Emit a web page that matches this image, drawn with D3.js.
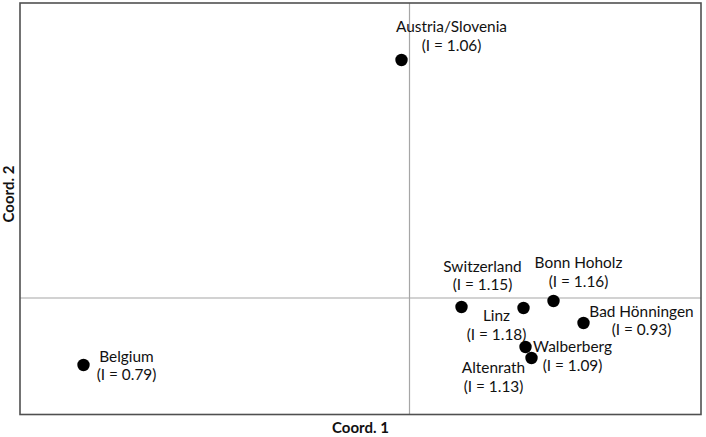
<!DOCTYPE html>
<html><head><meta charset="utf-8">
<script src="https://cdn.jsdelivr.net/npm/d3@7"></script>
<style>
html,body{margin:0;padding:0;background:#fff;}
svg{display:block;}
text{font-family:Lato,"Open Sans",sans-serif;}
</style></head>
<body>
<svg id="chart" width="706" height="437"></svg>
<script>
const sites = ["Austria/Slovenia","Switzerland","Bonn Hoholz","Linz","Bad Hönningen","Walberberg","Altenrath","Belgium"];
const indexI = ["1.06","1.15","1.16","1.18","0.93","1.09","1.13","0.79"];
const coord1 = [-0.08, 0.52, 1.44, 1.14, 1.74, 1.16, 1.22, -3.26];
const coord2 = [2.38, -0.09, -0.03, -0.10, -0.25, -0.49, -0.60, -0.67];
const xTitle = "Coord. 1";
const yTitle = "Coord. 2";

// label placement (offset of label centre / first baseline from the point, px)
const labelDx = [50, 21, 25, -27, 58, 47, -38, 43];
const labelDy = [-28, -35.5, -33, 13, -6.5, 5, 15, -3.5];

const svg = d3.select("#chart");
const L = 20, R = 701, T = 3, B = 414.5;
const x = d3.scaleLinear().domain([-3.895, 2.915]).range([L, R]);
const y = d3.scaleLinear().domain([-1.165, 2.95]).range([B, T]);

// zero lines
svg.append("line").attr("x1", x(0)).attr("x2", x(0)).attr("y1", T).attr("y2", B)
  .attr("stroke", "#a6a6a6").attr("stroke-width", 1.2);
svg.append("line").attr("x1", L).attr("x2", R).attr("y1", y(0)).attr("y2", y(0))
  .attr("stroke", "#a6a6a6").attr("stroke-width", 1.2);

// frame
svg.append("rect").attr("x", L).attr("y", T).attr("width", R - L).attr("height", B - T)
  .attr("fill", "none").attr("stroke", "#505050").attr("stroke-width", 1.6);

const data = sites.map((s, i) => ({s, I: indexI[i], c1: coord1[i], c2: coord2[i], dx: labelDx[i], dy: labelDy[i]}));

svg.append("g").selectAll("circle").data(data).join("circle")
  .attr("cx", d => x(d.c1)).attr("cy", d => y(d.c2)).attr("r", 6.2)
  .attr("fill", "#000");

const lab = svg.append("g").selectAll("text").data(data).join("text")
  .attr("text-anchor", "middle").attr("font-size", 15.4).attr("fill", "#111")
  .attr("x", d => x(d.c1) + d.dx).attr("y", d => y(d.c2) + d.dy);
lab.append("tspan").attr("x", d => x(d.c1) + d.dx).text(d => d.s);
lab.append("tspan").attr("x", d => x(d.c1) + d.dx).attr("dy", 18.5).text(d => "(I = " + d.I + ")");

svg.append("text").attr("x", 360.5).attr("y", 433).attr("text-anchor", "middle")
  .attr("font-size", 15).attr("font-weight", "bold").attr("fill", "#111").text(xTitle);
svg.append("text").attr("transform", "translate(13.5,194) rotate(-90)").attr("text-anchor", "middle")
  .attr("font-size", 15).attr("font-weight", "bold").attr("fill", "#111").text(yTitle);
</script>
</body></html>
